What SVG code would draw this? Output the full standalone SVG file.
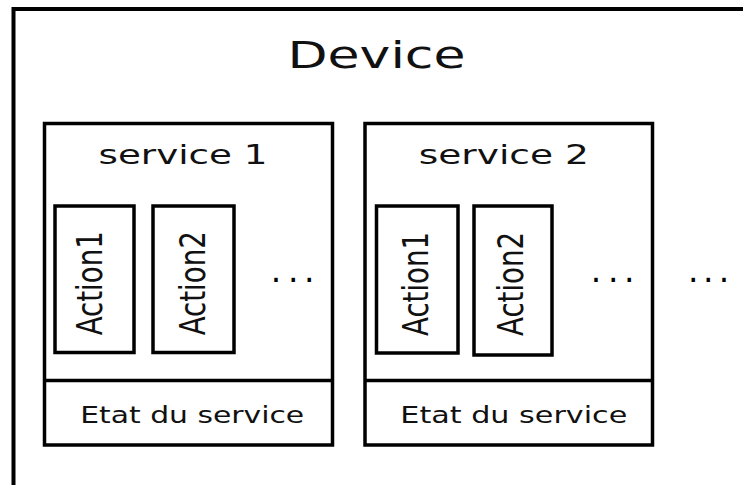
<svg xmlns="http://www.w3.org/2000/svg" width="743" height="485" viewBox="0 0 743 485">
<style>
.box{fill:#fff;stroke:#000;stroke-width:3.5}
.line{stroke:#000;stroke-width:3.5}
.t{font-family:"DejaVu Sans","Liberation Sans",sans-serif;fill:#111;text-anchor:middle}
.dots{font-family:"DejaVu Sans","Liberation Sans",sans-serif;fill:#000;font-size:33px}
</style>
<rect width="743" height="485" fill="#fff"/>
<g id="device">
<rect x="13.5" y="9" width="800" height="600" fill="#fff" stroke="#000" stroke-width="4"/>
<text class="t" x="376.5" y="68" font-size="38" textLength="178" lengthAdjust="spacingAndGlyphs">Device</text>
<text class="dots" x="688 703 718.7" y="281.5">...</text>
</g>
<g id="service1">
<rect class="box" x="44.5" y="123.5" width="288" height="321.5"/>
<line class="line" x1="44.5" y1="380.5" x2="332.5" y2="380.5"/>
<text class="t" x="183" y="164" font-size="26" textLength="169" lengthAdjust="spacingAndGlyphs">service 1</text>
<text class="t" x="192.2" y="422.5" font-size="23" textLength="224" lengthAdjust="spacingAndGlyphs">Etat du service</text>
<text class="dots" x="270.7 288 304" y="281.5">...</text>
</g>
<g id="s1-action1">
<rect class="box" x="55" y="206" width="79" height="146.5"/>
<text class="t" transform="translate(102.3,283.3) rotate(-90)" x="0" y="0" font-size="36" textLength="104" lengthAdjust="spacingAndGlyphs">Action1</text>
</g>
<g id="s1-action2">
<rect class="box" x="153" y="206" width="81" height="146.5"/>
<text class="t" transform="translate(205,283.3) rotate(-90)" x="0" y="0" font-size="36" textLength="104" lengthAdjust="spacingAndGlyphs">Action2</text>
</g>
<g id="service2">
<rect class="box" x="365" y="123.5" width="287.5" height="321.5"/>
<line class="line" x1="365" y1="380.5" x2="652.5" y2="380.5"/>
<text class="t" x="503.8" y="164.3" font-size="26" textLength="170" lengthAdjust="spacingAndGlyphs">service 2</text>
<text class="t" x="513.8" y="423" font-size="23" textLength="227" lengthAdjust="spacingAndGlyphs">Etat du service</text>
<text class="dots" x="590.7 608 624" y="281.5">...</text>
</g>
<g id="s2-action1">
<rect class="box" x="376.5" y="206" width="81.5" height="147"/>
<text class="t" transform="translate(428.3,284) rotate(-90)" x="0" y="0" font-size="36" textLength="104" lengthAdjust="spacingAndGlyphs">Action1</text>
</g>
<g id="s2-action2">
<rect class="box" x="474" y="206" width="78" height="149"/>
<text class="t" transform="translate(523.3,284) rotate(-90)" x="0" y="0" font-size="36" textLength="104" lengthAdjust="spacingAndGlyphs">Action2</text>
</g>
<g id="connectors"/>
</svg>
